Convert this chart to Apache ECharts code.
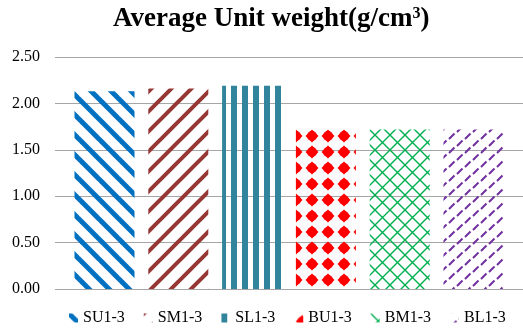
<!DOCTYPE html>
<html>
<head>
<meta charset="utf-8">
<script src="https://cdn.jsdelivr.net/npm/echarts@6/dist/echarts.min.js"></script>
<style>
  html, body { margin: 0; padding: 0; background: #fff; }
  #main { width: 523px; height: 329px; }
</style>
</head>
<body>
<div id="main"></div>
<script>
// one category, six series (one bar each)
var categories = [''];
var seriesNames = ['SU1-3', 'SM1-3', 'SL1-3', 'BU1-3', 'BM1-3', 'BL1-3'];
var unitWeight = [2.13, 2.16, 2.19, 1.72, 1.72, 1.72];
var yTicks = [0, 0.5, 1, 1.5, 2, 2.5];

// hatch fills like the excel pattern fills
function tile(w, h, draw) {
    var c = document.createElement('canvas');
    c.width = w;
    c.height = h;
    draw(c.getContext('2d'), w, h);
    return { image: c, repeat: 'repeat' };
}

var fills = [
    tile(20, 20, function (ctx, s) {   // wide downward diagonal
        ctx.strokeStyle = '#0070C0';
        ctx.lineWidth = 5;
        for (var k = -1; k <= 1; k++) {
            ctx.beginPath();
            ctx.moveTo(k * s - 2, -2);
            ctx.lineTo(k * s + s + 2, s + 2);
            ctx.stroke();
        }
    }),
    tile(20, 20, function (ctx, s) {   // upward diagonal
        ctx.strokeStyle = '#953735';
        ctx.lineWidth = 4;
        for (var k = -1; k <= 1; k++) {
            ctx.beginPath();
            ctx.moveTo(k * s - 2, s + 2);
            ctx.lineTo(k * s + s + 2, -2);
            ctx.stroke();
        }
    }),
    tile(11, 11, function (ctx) {      // wide vertical
        ctx.fillStyle = '#31849B';
        ctx.fillRect(0, 0, 6, 11);
    }),
    tile(16, 16, function (ctx) {      // sphere-ish dots
        ctx.fillStyle = '#FF0000';
        ctx.beginPath();
        ctx.moveTo(8, 1.5);
        ctx.lineTo(14.5, 8);
        ctx.lineTo(8, 14.5);
        ctx.lineTo(1.5, 8);
        ctx.closePath();
        ctx.fill();
        ctx.beginPath();
        ctx.arc(8, 8, 5, 0, Math.PI * 2);
        ctx.fill();
    }),
    tile(15, 15, function (ctx, s) {   // diagonal trellis
        ctx.strokeStyle = '#00B050';
        ctx.lineWidth = 1.4;
        for (var k = -1; k <= 1; k++) {
            ctx.beginPath();
            ctx.moveTo(k * s, 0);
            ctx.lineTo(k * s + s, s);
            ctx.moveTo(k * s, s);
            ctx.lineTo(k * s + s, 0);
            ctx.stroke();
        }
    }),
    tile(16, 14, function (ctx) {      // dashed upward diagonal
        ctx.strokeStyle = '#7030A0';
        ctx.lineWidth = 2;
        ctx.beginPath();
        ctx.moveTo(1, 13);
        ctx.lineTo(6.5, 7.5);
        ctx.moveTo(9, 6);
        ctx.lineTo(14.5, 0.5);
        ctx.stroke();
    })
];

var series = seriesNames.map(function (name, i) {
    return {
        name: name,
        type: 'bar',
        data: [unitWeight[i]],
        barWidth: 60,
        barGap: '23%',
        itemStyle: { color: fills[i] }
    };
});

var option = {
    animation: false,
    backgroundColor: '#fff',
    title: {
        text: 'Average Unit weight(g/cm{sup|3})',
        left: 108,
        top: 1,
        textStyle: {
            fontFamily: 'Liberation Serif',
            fontSize: 27,
            fontWeight: 'bold',
            color: '#000',
            rich: {
                sup: {
                    fontFamily: 'Liberation Serif',
                    fontSize: 16,
                    fontWeight: 'bold',
                    color: '#000',
                    padding: [0, 0, 11, 0]
                }
            }
        }
    },
    legend: {
        data: seriesNames,
        left: 64,
        top: 305,
        icon: 'rect',
        itemWidth: 9,
        itemHeight: 9,
        itemGap: 19,
        textStyle: { fontFamily: 'Liberation Serif', fontSize: 16, color: '#000' }
    },
    grid: { left: 55, right: -5, top: 57, bottom: 40 },
    xAxis: {
        type: 'category',
        data: categories,
        axisLine: { show: false },
        axisTick: { show: false },
        axisLabel: { show: false }
    },
    yAxis: {
        type: 'value',
        min: yTicks[0],
        max: yTicks[yTicks.length - 1],
        interval: 0.5,
        axisLine: { show: false },
        axisTick: { show: false },
        axisLabel: {
            margin: 15,
            fontFamily: 'Liberation Serif',
            fontSize: 16,
            color: '#000',
            formatter: function (v) { return v.toFixed(2); }
        },
        splitLine: { lineStyle: { color: '#A6A6A6', width: 1 } }
    },
    series: series
};

var chart = echarts.init(document.getElementById('main'));
chart.setOption(option);
</script>
</body>
</html>
